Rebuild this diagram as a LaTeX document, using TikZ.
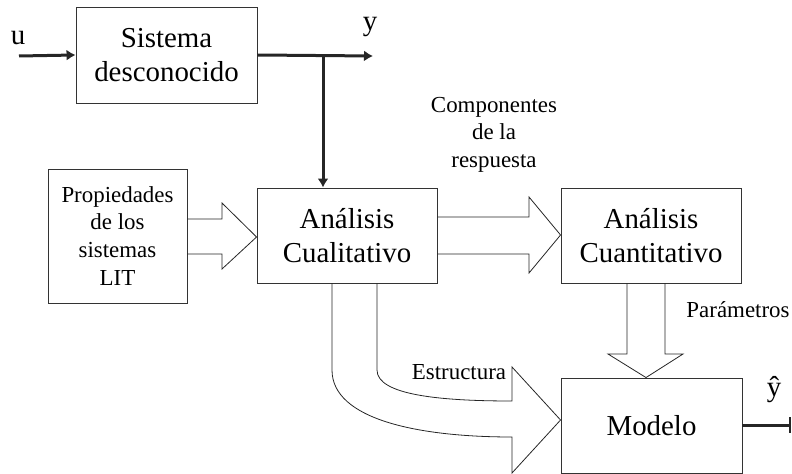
\documentclass[tikz,border=0pt]{standalone}
\usepackage{fontspec}
\setmainfont{Liberation Serif}
\usetikzlibrary{arrows.meta,calc}
\begin{document}
\begin{tikzpicture}[x=1bp,y=-1bp,
  blk/.style={draw=black!80,line width=0.9bp,rectangle,inner sep=0pt,align=center,
    font=\fontsize{29}{34}\selectfont},
  lbl/.style={inner sep=0pt,align=center,font=\fontsize{23}{27.5}\selectfont},
  big/.style={inner sep=0pt,font=\fontsize{29}{34}\selectfont},
  sig/.style={line width=3bp,draw=black!85,-{Latex[length=9bp,width=11bp]}},
  hollow/.style={draw=black!85,line width=0.8bp,line join=miter}]
\path[use as bounding box] (0,0) rectangle (792,474);

\node[blk,minimum width=181bp,minimum height=96bp] (sis) at (166.5,55) {Sistema\\desconocido};
\node[blk,minimum width=139bp,minimum height=134bp,font=\fontsize{23}{28}\selectfont] (prop) at (117.5,236) {Propiedades\\de los\\sistemas\\LIT};
\node[blk,minimum width=180bp,minimum height=95bp] (cual) at (347,235.5) {Análisis\\Cualitativo};
\node[blk,minimum width=180bp,minimum height=95bp] (cuan) at (651,235.5) {Análisis\\Cuantitativo};
\node[blk,minimum width=181bp,minimum height=95bp] (mod) at (651.5,425.5) {Modelo};

% signal labels
\node[big] (u) at (18,38) {u};
\node[big,anchor=base] (y) at (370,31) {y};
\node[big,anchor=base] (yh) at (774,396) {ŷ};
\node[lbl] (comp) at (494,134.5) {Componentes\\de la\\respuesta};
\node[lbl,anchor=base] (par) at (738,318) {Parámetros};
\node[lbl,anchor=base] (est) at (459,380) {Estructura};

% signal arrows
\coordinate (uin) at (19,56);
\coordinate (yout) at (373,56);
\coordinate (br) at (323,56);
\coordinate (yhout) at (791,425);
\draw[sig] (uin) -- (sis.west);
\draw[sig] (sis.east) -- (yout);
\draw[sig] (br) -- (br |- cual.north);
\draw[line width=3bp,draw=black!85,-{Bar[width=16bp,line width=2bp]}] (mod.east |- yhout) -- (yhout);

% hollow arrows
\draw[hollow] (prop.east |- 0,219) -- (222,219) -- (222,203) -- (cual.west |- 0,237)
  -- (222,269) -- (222,254) -- (prop.east |- 0,254);
\draw[hollow] (cual.east |- 0,217) -- (529,217) -- (529,197) -- (cuan.west |- 0,235)
  -- (529,273) -- (529,254) -- (cual.east |- 0,254);
\draw[hollow] (627,0 |- cuan.south) -- (627,354) -- (608,354) -- (646,0 |- mod.north)
  -- (683,354) -- (665,354) -- (665,0 |- cuan.south);
\draw[hollow] (332,0 |- cual.south) -- (332,370) .. controls (332,420) and (420,437) .. (512,437)
  -- (512,473) -- (mod.west |- 0,420) -- (512,367) -- (512,401)
  .. controls (440,401) and (377,395) .. (377,370) -- (377,0 |- cual.south);
\end{tikzpicture}
\end{document}
